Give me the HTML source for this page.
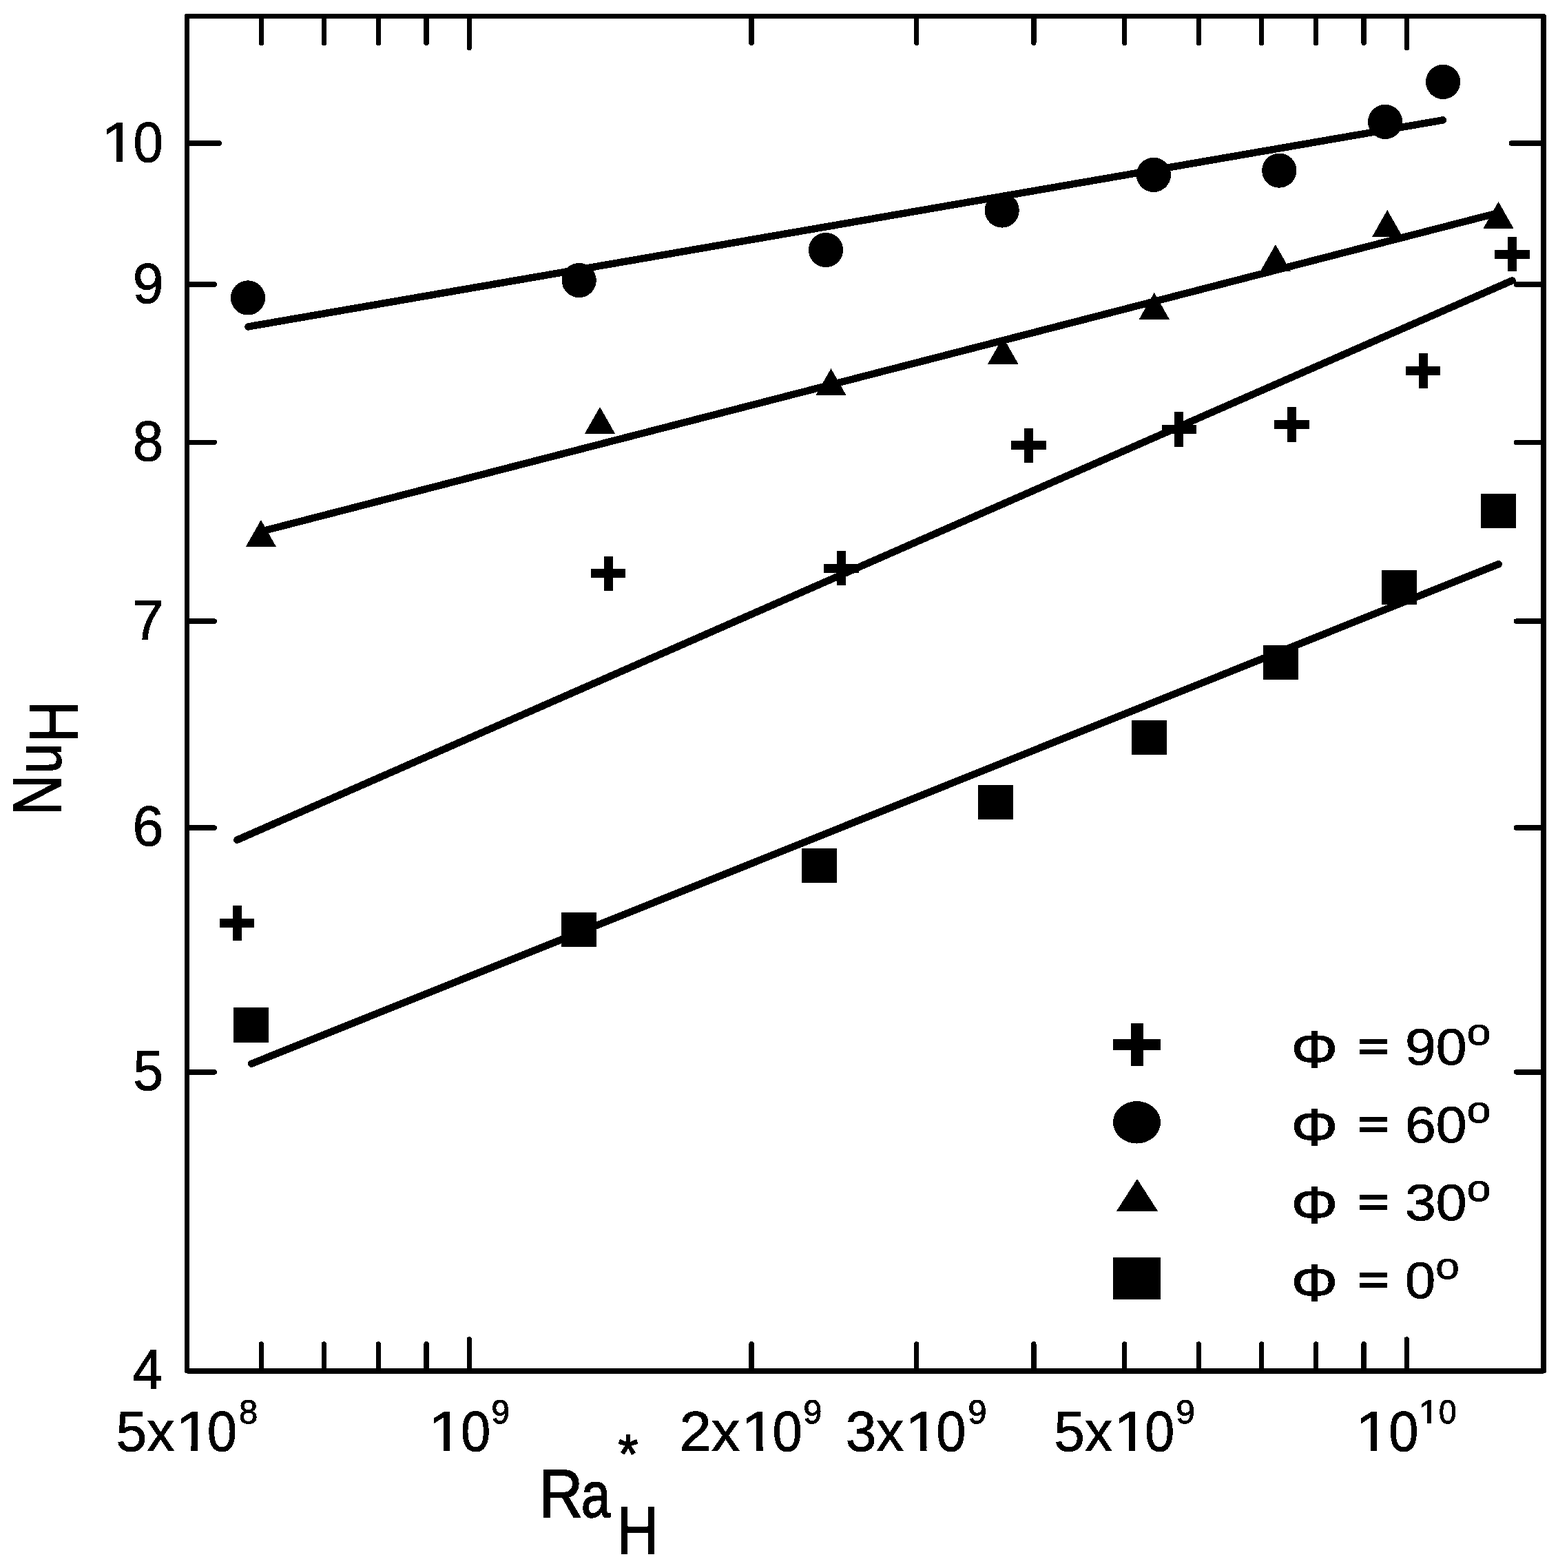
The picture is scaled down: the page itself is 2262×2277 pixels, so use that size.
<!DOCTYPE html>
<html lang="en">
<head>
<meta charset="utf-8">
<title>Nu_H versus Ra_H*</title>
<style>
html,body{margin:0;padding:0;background:#fff;}
body{width:2262px;height:2277px;overflow:hidden;}
svg{display:block;}
</style>
</head>
<body>
<svg width="2262" height="2277" viewBox="0 0 2262 2277" role="img" aria-label="NuH versus RaH* for four inclination angles">
<rect x="0" y="0" width="2262" height="2277" fill="#fff"/>
<defs><filter id="bw" filterUnits="userSpaceOnUse" x="0" y="0" width="2262" height="2277" color-interpolation-filters="sRGB"><feComponentTransfer><feFuncA type="discrete" tableValues="0 1"/></feComponentTransfer></filter><clipPath id="nofoot" clipPathUnits="userSpaceOnUse"><path d="M-10 -120H110V-8.3H34.7V6H24.4V-8.3H-10Z"/></clipPath></defs>
<g fill="none" stroke="#000" stroke-width="7.40" stroke-linecap="round" stroke-linejoin="round" shape-rendering="crispEdges">
<rect x="271.60" y="23.50" width="1969.50" height="1967.30"/>
<path d="M379.37 23.50v38.90M379.37 1990.80v-38.90M470.49 23.50v38.90M470.49 1990.80v-38.90M549.43 23.50v38.90M549.43 1990.80v-38.90M619.05 23.50v38.90M619.05 1990.80v-38.90M681.33 23.50v45.90M681.33 1990.80v-45.90M1091.06 23.50v38.90M1091.06 1990.80v-38.90M1330.74 23.50v38.90M1330.74 1990.80v-38.90M1500.80 23.50v38.90M1500.80 1990.80v-38.90M1632.70 23.50v38.90M1632.70 1990.80v-38.90M1740.47 23.50v38.90M1740.47 1990.80v-38.90M1831.59 23.50v38.90M1831.59 1990.80v-38.90M1910.53 23.50v38.90M1910.53 1990.80v-38.90M1980.15 23.50v38.90M1980.15 1990.80v-38.90M2042.43 23.50v45.90M2042.43 1990.80v-45.90M271.60 1556.89h39.70M2241.10 1556.89h-39.70M271.60 1202.08h39.70M2241.10 1202.08h-39.70M271.60 902.10h39.70M2241.10 902.10h-39.70M271.60 642.24h39.70M2241.10 642.24h-39.70M271.60 413.03h39.70M2241.10 413.03h-39.70M271.60 208.00h46.70M2241.10 208.00h-46.70"/>
</g>
<g fill="none" stroke="#000" stroke-width="10.50" stroke-linecap="round" shape-rendering="crispEdges">
<line x1="360.40" y1="474.40" x2="2094.90" y2="174.40"/>
<line x1="378.90" y1="771.80" x2="2175.50" y2="309.10"/>
<line x1="344.30" y1="1219.70" x2="2195.50" y2="407.40"/>
<line x1="365.20" y1="1544.70" x2="2175.70" y2="819.20"/>
</g>
<g fill="#000" stroke="none" shape-rendering="crispEdges">
<ellipse cx="360.00" cy="432.40" rx="25.10" ry="25.10"/>
<ellipse cx="840.70" cy="407.10" rx="25.10" ry="25.10"/>
<ellipse cx="1199.00" cy="363.00" rx="25.10" ry="25.10"/>
<ellipse cx="1454.70" cy="305.50" rx="25.10" ry="25.10"/>
<ellipse cx="1674.90" cy="253.90" rx="25.10" ry="25.10"/>
<ellipse cx="1857.30" cy="247.60" rx="25.10" ry="25.10"/>
<ellipse cx="2011.10" cy="176.90" rx="25.10" ry="25.10"/>
<ellipse cx="2095.10" cy="118.90" rx="25.10" ry="25.10"/>
<path d="M378.90 755.03L401.05 794.03L356.75 794.03Z"/>
<path d="M871.00 590.93L893.15 629.93L848.85 629.93Z"/>
<path d="M1206.50 535.03L1228.65 574.03L1184.35 574.03Z"/>
<path d="M1456.30 489.53L1478.45 528.53L1434.15 528.53Z"/>
<path d="M1675.80 424.83L1697.95 463.83L1653.65 463.83Z"/>
<path d="M1851.90 355.03L1874.05 394.03L1829.75 394.03Z"/>
<path d="M2014.20 304.93L2036.35 343.93L1992.05 343.93Z"/>
<path d="M2175.50 292.93L2197.65 331.93L2153.35 331.93Z"/>
<path d="M319.00 1333.90h50.40v13.00h-50.40zM337.70 1315.20h13.00v50.40h-13.00z"/>
<path d="M858.00 826.20h50.40v13.00h-50.40zM876.70 807.50h13.00v50.40h-13.00z"/>
<path d="M1196.30 818.70h50.40v13.00h-50.40zM1215.00 800.00h13.00v50.40h-13.00z"/>
<path d="M1468.30 640.40h50.40v13.00h-50.40zM1487.00 621.70h13.00v50.40h-13.00z"/>
<path d="M1686.60 617.00h50.40v13.00h-50.40zM1705.30 598.30h13.00v50.40h-13.00z"/>
<path d="M1850.10 609.90h50.40v13.00h-50.40zM1868.80 591.20h13.00v50.40h-13.00z"/>
<path d="M2040.90 532.10h50.40v13.00h-50.40zM2059.60 513.40h13.00v50.40h-13.00z"/>
<path d="M2170.30 362.70h50.40v13.00h-50.40zM2189.00 344.00h13.00v50.40h-13.00z"/>
<rect x="339.00" y="1463.10" width="51.00" height="50.60"/>
<rect x="815.00" y="1324.70" width="51.00" height="50.60"/>
<rect x="1163.50" y="1231.70" width="51.00" height="50.60"/>
<rect x="1420.20" y="1139.70" width="51.00" height="50.60"/>
<rect x="1643.10" y="1045.70" width="51.00" height="50.60"/>
<rect x="1833.50" y="936.70" width="51.00" height="50.60"/>
<rect x="2006.40" y="827.70" width="51.00" height="50.60"/>
<rect x="2150.10" y="716.60" width="51.00" height="50.60"/>
<path d="M1615.95 1508.95h69.10v16.10h-69.10zM1642.00 1486.15h18.00v61.70h-18.00z"/>
<ellipse cx="1650.50" cy="1629.80" rx="34.55" ry="30.75"/>
<path d="M1651.00 1712.07L1681.00 1758.67L1621.00 1758.67Z"/>
<rect x="1615.95" y="1825.80" width="69.10" height="61.00"/>
</g>
<g filter="url(#bw)" fill="#000" stroke="#000" stroke-linejoin="miter" stroke-miterlimit="3" font-family="'Liberation Sans', Arial, Helvetica, sans-serif" font-size="100" style="font-kerning:none;font-variant-ligatures:none" text-rendering="geometricPrecision">
<g><text transform="translate(147.23 234.50) scale(0.8906 0.8215)" stroke-width="1.169" clip-path="url(#nofoot)">1</text><text transform="translate(193.45 234.50) scale(0.7803 0.8219)" stroke-width="1.249">0</text></g>
<text transform="translate(192.71 439.60) scale(0.8075 0.8219)" stroke-width="1.228">9</text>
<text transform="translate(192.83 668.90) scale(0.7992 0.8219)" stroke-width="1.234">8</text>
<text transform="translate(192.29 928.60) scale(0.8205 0.8215)" stroke-width="1.218">7</text>
<text transform="translate(192.40 1228.40) scale(0.8084 0.8219)" stroke-width="1.227">6</text>
<text transform="translate(193.35 1583.10) scale(0.7867 0.8217)" stroke-width="1.244">5</text>
<text transform="translate(192.50 2017.00) scale(0.7839 0.8215)" stroke-width="1.246">4</text>
<g><text transform="translate(168.58 2106.70) scale(0.8047 0.8217)" stroke-width="1.230">5x</text><text transform="translate(255.28 2106.70) scale(0.9070 0.8215)" stroke-width="1.158" clip-path="url(#nofoot)">1</text><text transform="translate(300.66 2106.70) scale(0.7782 0.8219)" stroke-width="1.250">0</text><text transform="translate(346.97 2066.70) scale(0.4902 0.4859)" stroke-width="2.049">8</text></g>
<g><text transform="translate(621.85 2106.70) scale(0.8988 0.8215)" stroke-width="1.164" clip-path="url(#nofoot)">1</text><text transform="translate(668.96 2106.70) scale(0.7782 0.8219)" stroke-width="1.250">0</text><text transform="translate(713.25 2066.70) scale(0.4806 0.4859)" stroke-width="2.069">9</text></g>
<g><text transform="translate(986.52 2106.70) scale(0.8321 0.8217)" stroke-width="1.209">2x</text><text transform="translate(1076.08 2106.70) scale(0.9070 0.8215)" stroke-width="1.158" clip-path="url(#nofoot)">1</text><text transform="translate(1121.46 2106.70) scale(0.7782 0.8219)" stroke-width="1.250">0</text><text transform="translate(1166.32 2066.70) scale(0.4871 0.4859)" stroke-width="2.056">9</text></g>
<g><text transform="translate(1227.75 2106.70) scale(0.8001 0.8219)" stroke-width="1.233">3x</text><text transform="translate(1313.98 2106.70) scale(0.9070 0.8215)" stroke-width="1.158" clip-path="url(#nofoot)">1</text><text transform="translate(1359.36 2106.70) scale(0.7782 0.8219)" stroke-width="1.250">0</text><text transform="translate(1405.19 2066.70) scale(0.4936 0.4859)" stroke-width="2.042">9</text></g>
<g><text transform="translate(1530.29 2106.70) scale(0.8017 0.8217)" stroke-width="1.232">5x</text><text transform="translate(1616.68 2106.70) scale(0.9070 0.8215)" stroke-width="1.158" clip-path="url(#nofoot)">1</text><text transform="translate(1662.06 2106.70) scale(0.7782 0.8219)" stroke-width="1.250">0</text><text transform="translate(1707.26 2066.70) scale(0.5001 0.4859)" stroke-width="2.029">9</text></g>
<g><text transform="translate(1968.05 2106.70) scale(0.8988 0.8215)" stroke-width="1.164" clip-path="url(#nofoot)">1</text><text transform="translate(2016.26 2106.70) scale(0.7782 0.8219)" stroke-width="1.250">0</text><text transform="translate(2059.65 2066.70) scale(0.5253 0.4855)" stroke-width="1.980" clip-path="url(#nofoot)">1</text><text transform="translate(2088.90 2066.70) scale(0.4602 0.4859)" stroke-width="2.115">0</text></g>
<g><text transform="translate(782.67 2202.90) scale(0.8808 0.9884)" stroke-width="1.715">R</text><text transform="translate(843.65 2203.18) scale(0.7651 0.9382)" stroke-width="1.888">a</text><text transform="translate(895.87 2255.90) scale(0.8324 0.9753)" stroke-width="1.776">H</text><text transform="translate(897.40 2139.45) scale(0.7470 0.8089)" stroke-width="2.058">*</text></g>
<g transform="translate(89.1 1178.1) rotate(-90)"><text transform="translate(-5.88 -0.80) scale(0.8145 0.9971)" stroke-width="1.775">N</text><text transform="translate(54.69 -0.72) scale(0.7862 0.9385)" stroke-width="1.863">u</text><text transform="translate(100.09 23.20) scale(0.8307 0.9957)" stroke-width="1.759">H</text></g>
<g><text transform="translate(1874.68 1549.79) scale(0.8435 0.7548)" stroke-width="2.005">Φ</text> <text transform="translate(1971.29 1539.92) scale(0.7801 0.6082)" stroke-width="3.484">=</text> <text transform="translate(2039.95 1545.70) scale(0.8058 0.7459)" stroke-width="1.290">90</text><text transform="translate(2129.69 1517.38) scale(0.6227 0.5366)" stroke-width="1.730">o</text></g>
<g><text transform="translate(1874.68 1662.89) scale(0.8435 0.7548)" stroke-width="2.005">Φ</text> <text transform="translate(1971.29 1653.02) scale(0.7801 0.6082)" stroke-width="3.484">=</text> <text transform="translate(2039.95 1658.80) scale(0.8057 0.7459)" stroke-width="1.290">60</text><text transform="translate(2129.69 1630.48) scale(0.6227 0.5366)" stroke-width="1.730">o</text></g>
<g><text transform="translate(1874.68 1775.99) scale(0.8435 0.7548)" stroke-width="2.005">Φ</text> <text transform="translate(1971.29 1766.12) scale(0.7801 0.6082)" stroke-width="3.484">=</text> <text transform="translate(2039.94 1771.90) scale(0.8058 0.7459)" stroke-width="1.290">30</text><text transform="translate(2129.69 1743.58) scale(0.6227 0.5366)" stroke-width="1.730">o</text></g>
<g><text transform="translate(1874.68 1889.09) scale(0.8435 0.7548)" stroke-width="2.005">Φ</text> <text transform="translate(1971.29 1879.22) scale(0.7801 0.6082)" stroke-width="3.484">=</text> <text transform="translate(2039.98 1885.00) scale(0.7946 0.7459)" stroke-width="1.299">0</text><text transform="translate(2084.33 1856.68) scale(0.6227 0.5366)" stroke-width="1.730">o</text></g>
</g>
</svg>
</body>
</html>
